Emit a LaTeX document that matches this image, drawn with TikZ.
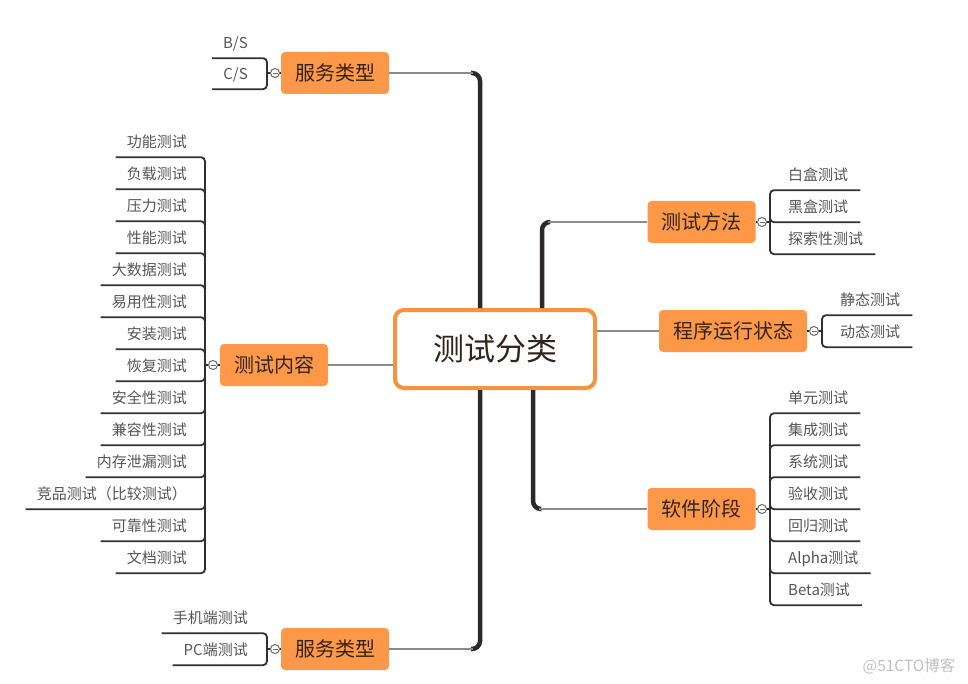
\documentclass[tikz,border=0pt]{standalone}
\usepackage{fontspec}
\usepackage{xcolor}
\usepackage{tikz}
\usetikzlibrary{calc}
\newfontfamily\cjk{Noto Sans CJK SC}
\definecolor{mmorange}{RGB}{252,152,72}
\definecolor{mmborder}{RGB}{247,146,62}
\definecolor{mmtext}{RGB}{48,36,30}
\definecolor{mmleaf}{RGB}{85,85,85}
\definecolor{mmtrunk}{RGB}{44,40,44}
\definecolor{mmbranch}{RGB}{138,138,138}
\definecolor{mmline}{RGB}{48,48,48}
\definecolor{mmfold}{RGB}{105,105,105}
\definecolor{mmwater}{RGB}{192,192,192}
\tikzset{
  root/.style={rectangle, draw=mmborder, fill=white, line width=4pt,
    rounded corners=9pt, minimum width=200pt, minimum height=78pt,
    text height=27.3pt, text depth=3.7pt, text=mmtext,
    font=\cjk\fontsize{31}{36}\selectfont},
  topic/.style={rectangle, fill=mmorange, rounded corners=4pt,
    minimum width=108pt, minimum height=42pt, inner xsep=14pt,
    text height=17.6pt, text depth=2.4pt, text=mmtext,
    font=\cjk\fontsize{20}{24}\selectfont},
  leaf/.style={inner xsep=0pt, inner ysep=7.5pt, text height=13.2pt,
    text depth=1.8pt, text=mmleaf, font=\cjk\fontsize{15}{18}\selectfont},
  leafleft/.style={leaf, anchor=east},
  leafright/.style={leaf, anchor=west},
  fold/.style={circle, draw=mmfold, fill=white, line width=1pt,
    minimum size=9pt, inner sep=0pt,
    path picture={\draw[mmfold, line width=0.9pt]
      ([xshift=-2.5pt]path picture bounding box.center) --
      ([xshift=2.5pt]path picture bounding box.center);}},
  trunk/.style={line width=4.5pt, color=mmtrunk, rounded corners=8pt},
  branch/.style={line width=1.8pt, color=mmbranch},
  bracket/.style={line width=1.8pt, color=mmline, rounded corners=4pt},
  watermark/.style={text=mmwater, font=\cjk\fontsize{15.5}{18}\selectfont}
}

\begin{document}
\begin{tikzpicture}[x=1pt, y=-1pt]
  \useasboundingbox (0,0) rectangle (968,684);

  % ── Root and main topics ───────────────────────────────────────────────
  \node[root]  (cls)  at (495,349)   {测试分类};
  \node[topic] (srvA) at (335,73)    {服务类型};
  \node[topic] (ctn)  at (274,365)   {测试内容};
  \node[topic] (srvB) at (335,649)   {服务类型};
  \node[topic] (tm)   at (701.5,222) {测试方法};
  \node[topic] (cx)   at (733,331)   {程序运行状态};
  \node[topic] (rj)   at (701.5,509) {软件阶段};

  % ── Trunk lines from the root ──────────────────────────────────────────
  \draw[trunk]  ($(cls.north)+(-15,0)$) |- ($(srvA.east)+(82,0)$);
  \draw[branch] ($(srvA.east)+(84,0)$) -- (srvA.east);
  \draw[trunk]  ($(cls.south)+(-15,0)$) |- ($(srvB.east)+(82,0)$);
  \draw[branch] ($(srvB.east)+(84,0)$) -- (srvB.east);
  \draw[trunk]  ($(cls.north)+(47,0)$) |- ($(tm.west)+(-97,0)$);
  \draw[branch] ($(tm.west)+(-99,0)$) -- (tm.west);
  \draw[trunk]  ($(cls.south)+(38,0)$) |- ($(rj.west)+(-106,0)$);
  \draw[branch] ($(rj.west)+(-108,0)$) -- (rj.west);
  \draw[branch] (cls.west |- ctn.east) -- (ctn.east);
  \draw[branch] (cls.east |- cx.west) -- (cx.west);

  % ── Fold marks and bracket junctions ───────────────────────────────────
  \node[fold] (srvAf) at (275,73)  {};  \coordinate (srvAj) at (267,73);
  \node[fold] (ctnf)  at (213,365) {};  \coordinate (ctnj)  at (205,365);
  \node[fold] (srvBf) at (275,649) {};  \coordinate (srvBj) at (267,649);
  \node[fold] (tmf)   at (762,222) {};  \coordinate (tmj)   at (770,222);
  \node[fold] (cxf)   at (814,331) {};  \coordinate (cxj)   at (822,331);
  \node[fold] (rjf)   at (762,509) {};  \coordinate (rjj)   at (770,509);
  \draw[bracket] (srvA) -- (srvAf);  \draw[bracket] (srvAf) -- (srvAj);
  \draw[bracket] (ctn)  -- (ctnf);   \draw[bracket] (ctnf)  -- (ctnj);
  \draw[bracket] (srvB) -- (srvBf);  \draw[bracket] (srvBf) -- (srvBj);
  \draw[bracket] (tm)   -- (tmf);    \draw[bracket] (tmf)   -- (tmj);
  \draw[bracket] (cx)   -- (cxf);    \draw[bracket] (cxf)   -- (cxj);
  \draw[bracket] (rj)   -- (rjf);    \draw[bracket] (rjf)   -- (rjj);

  % ── Leaves: 服务类型 (top) ─────────────────────────────────────────────
  \node[leafleft] (srvA1) at (248,43) {B/S};
  \node[leafleft] (srvA2) at (248,74) {C/S};

  % ── Leaves: 测试内容 ───────────────────────────────────────────────────
  \node[leafleft] (ctn1)  at (187,142) {功能测试};
  \node[leafleft] (ctn2)  at (187,174) {负载测试};
  \node[leafleft] (ctn3)  at (187,206) {压力测试};
  \node[leafleft] (ctn4)  at (187,238) {性能测试};
  \node[leafleft] (ctn5)  at (187,270) {大数据测试};
  \node[leafleft] (ctn6)  at (187,302) {易用性测试};
  \node[leafleft] (ctn7)  at (187,334) {安装测试};
  \node[leafleft] (ctn8)  at (187,366) {恢复测试};
  \node[leafleft] (ctn9)  at (187,398) {安全性测试};
  \node[leafleft] (ctn10) at (187,430) {兼容性测试};
  \node[leafleft] (ctn11) at (187,462) {内存泄漏测试};
  \node[leafleft] (ctn12) at (187,494) {竞品测试（比较测试）};
  \node[leafleft] (ctn13) at (187,526) {可靠性测试};
  \node[leafleft] (ctn14) at (187,558) {文档测试};

  % ── Leaves: 服务类型 (bottom) ──────────────────────────────────────────
  \node[leafleft] (srvB1) at (248,618) {手机端测试};
  \node[leafleft] (srvB2) at (248,650) {PC端测试};

  % ── Leaves: 测试方法 / 程序运行状态 / 软件阶段 ─────────────────────────
  \node[leafright] (tm1) at (788,175) {白盒测试};
  \node[leafright] (tm2) at (788,207) {黑盒测试};
  \node[leafright] (tm3) at (788,239) {探索性测试};
  \node[leafright] (cx1) at (840,300) {静态测试};
  \node[leafright] (cx2) at (840,332) {动态测试};
  \node[leafright] (rj1) at (788,398) {单元测试};
  \node[leafright] (rj2) at (788,430) {集成测试};
  \node[leafright] (rj3) at (788,462) {系统测试};
  \node[leafright] (rj4) at (788,494) {验收测试};
  \node[leafright] (rj5) at (788,526) {回归测试};
  \node[leafright] (rj6) at (788,558) {Alpha测试};
  \node[leafright] (rj7) at (788,590) {Beta测试};

  % ── Underlines into the brackets ───────────────────────────────────────
  \foreach \i in {1,2}
    \draw[bracket] ([xshift=-11pt]srvA\i.south west) -| (srvAj);
  \foreach \i in {1,...,14}
    \draw[bracket] ([xshift=-11pt]ctn\i.south west) -| (ctnj);
  \foreach \i in {1,2}
    \draw[bracket] ([xshift=-11pt]srvB\i.south west) -| (srvBj);
  \foreach \i in {1,2,3}
    \draw[bracket] ([xshift=12pt]tm\i.south east) -| (tmj);
  \foreach \i in {1,2}
    \draw[bracket] ([xshift=12pt]cx\i.south east) -| (cxj);
  \foreach \i in {1,...,7}
    \draw[bracket] ([xshift=12pt]rj\i.south east) -| (rjj);

  \node[watermark] (wm) at (909,666) {@51CTO博客};
\end{tikzpicture}
\end{document}
